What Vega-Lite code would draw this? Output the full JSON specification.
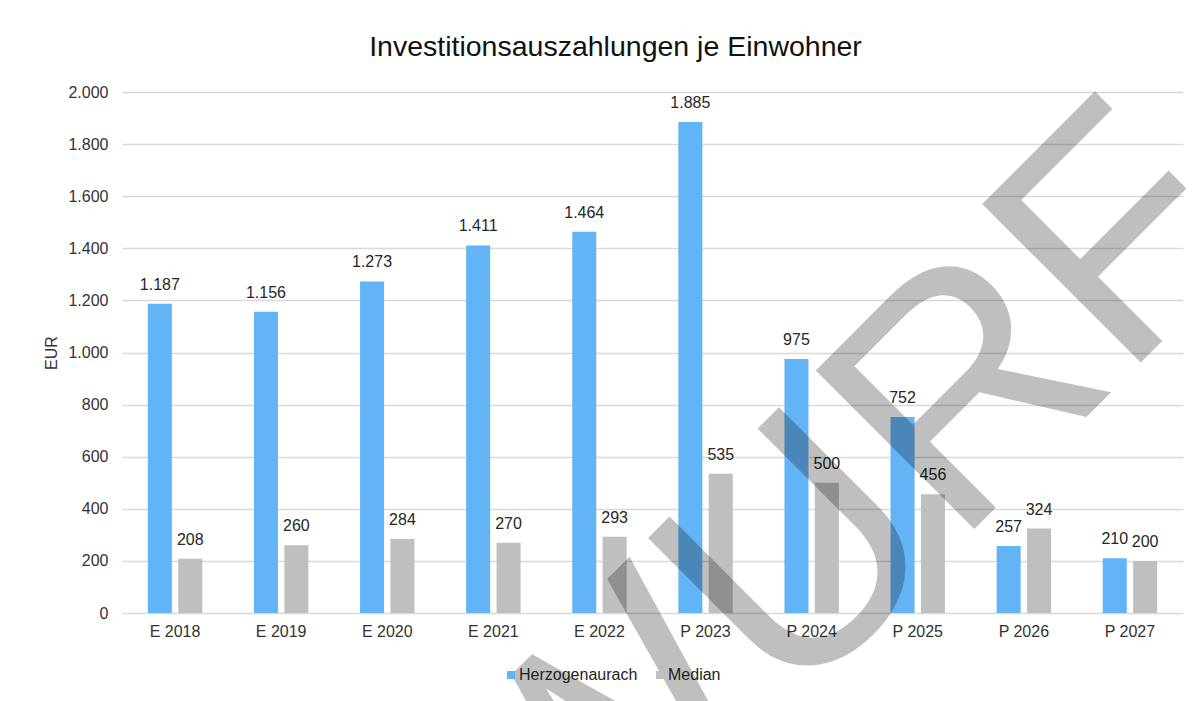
{
  "$schema": "https://vega.github.io/schema/vega-lite/v6.json",
  "width": 1061,
  "height": 521,
  "autosize": {"type": "none"},
  "padding": {"left": 122, "top": 92, "right": 21, "bottom": 88},
  "background": "white",
  "title": {
    "text": "Investitionsauszahlungen je Einwohner",
    "fontSize": 28.5,
    "font": "Liberation Sans",
    "fontWeight": "normal",
    "color": "#111111",
    "anchor": "middle",
    "frame": "group",
    "baseline": "alphabetic",
    "dx": -37,
    "offset": -28
  },
  "layer": [
    {
      "data": {"name": "bars"},
      "mark": {"type": "bar"},
      "encoding": {
        "x": {
          "field": "cat", "type": "nominal", "sort": null,
          "scale": {"paddingInner": 0.487, "paddingOuter": 0.2435},
          "axis": {"title": null, "labelAngle": 0, "ticks": false, "domain": false, "labelPadding": 10, "labelFontSize": 16, "labelColor": "#333333", "labelFont": "Liberation Sans"}
        },
        "xOffset": {"field": "series", "type": "nominal", "scale": {"paddingInner": 0.21, "paddingOuter": 0}},
        "y": {
          "field": "value", "type": "quantitative",
          "scale": {"domain": [0, 2000], "nice": false},
          "axis": {"title": "EUR", "values": [0, 200, 400, 600, 800, 1000, 1200, 1400, 1600, 1800, 2000], "format": ",d", "ticks": false, "domain": false, "labelPadding": 14, "labelFontSize": 16, "labelColor": "#333333", "labelFont": "Liberation Sans", "titleFont": "Liberation Sans", "titleFontSize": 16, "titleFontWeight": "normal", "titleColor": "#333333", "titlePadding": 8, "gridColor": "#d9d9d9", "gridWidth": 1.4}
        },
        "color": {
          "field": "series", "type": "nominal",
          "scale": {"domain": ["Herzogenaurach", "Median"], "range": ["#63B4F6", "#BFBFBF"]},
          "legend": {"title": null, "orient": "none", "legendX": 381, "legendY": 575, "direction": "horizontal", "symbolType": "square", "symbolSize": 64, "symbolStrokeWidth": 0, "labelFontSize": 16, "labelFont": "Liberation Sans", "labelColor": "#222222", "labelOffset": 0, "columnPadding": 14}
        }
      }
    },
    {
      "data": {"name": "bars"},
      "mark": {"type": "text", "baseline": "alphabetic", "dy": -14, "fontSize": 16, "font": "Liberation Sans", "fill": "#262626"},
      "encoding": {
        "x": {"field": "cat", "type": "nominal", "sort": null},
        "xOffset": {"field": "series", "type": "nominal"},
        "y": {"field": "value", "type": "quantitative", "scale": {"domain": [0, 2000], "nice": false}},
        "text": {"field": "value", "type": "quantitative", "format": ",d"}
      }
    },
    {
      "data": {"name": "watermark"},
      "mark": {"type": "text", "align": "center", "baseline": "alphabetic", "angle": -45, "dx": -28, "dy": 1, "fontSize": 326, "font": "Liberation Sans", "fill": "#000000", "fillOpacity": 0.25},
      "encoding": {
        "x": {"datum": "P 2023"},
        "y": {"datum": -704, "type": "quantitative", "scale": {"domain": [0, 2000], "nice": false}},
        "text": {"field": "label", "type": "nominal"}
      }
    }
  ],
  "datasets": {
    "bars": [
      {"cat": "E 2018", "series": "Herzogenaurach", "value": 1187},
      {"cat": "E 2018", "series": "Median", "value": 208},
      {"cat": "E 2019", "series": "Herzogenaurach", "value": 1156},
      {"cat": "E 2019", "series": "Median", "value": 260},
      {"cat": "E 2020", "series": "Herzogenaurach", "value": 1273},
      {"cat": "E 2020", "series": "Median", "value": 284},
      {"cat": "E 2021", "series": "Herzogenaurach", "value": 1411},
      {"cat": "E 2021", "series": "Median", "value": 270},
      {"cat": "E 2022", "series": "Herzogenaurach", "value": 1464},
      {"cat": "E 2022", "series": "Median", "value": 293},
      {"cat": "P 2023", "series": "Herzogenaurach", "value": 1885},
      {"cat": "P 2023", "series": "Median", "value": 535},
      {"cat": "P 2024", "series": "Herzogenaurach", "value": 975},
      {"cat": "P 2024", "series": "Median", "value": 500},
      {"cat": "P 2025", "series": "Herzogenaurach", "value": 752},
      {"cat": "P 2025", "series": "Median", "value": 456},
      {"cat": "P 2026", "series": "Herzogenaurach", "value": 257},
      {"cat": "P 2026", "series": "Median", "value": 324},
      {"cat": "P 2027", "series": "Herzogenaurach", "value": 210},
      {"cat": "P 2027", "series": "Median", "value": 200}
    ],
    "watermark": [
      {"label": "ENTWURF"}
    ]
  },
  "config": {
    "locale": {"number": {"decimal": ",", "thousands": ".", "grouping": [3], "currency": ["", " €"]}},
    "view": {"stroke": null},
    "font": "Liberation Sans"
  }
}
